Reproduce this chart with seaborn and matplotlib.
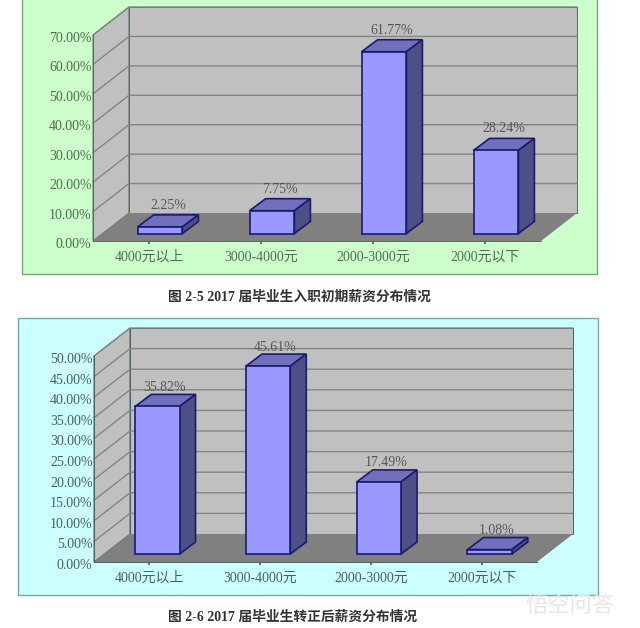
import seaborn as sns
import matplotlib.pyplot as plt
from matplotlib.patches import Rectangle
from matplotlib.transforms import Affine2D

categories = ['4000元以上', '3000-4000元', '2000-3000元', '2000元以下']
entry_values = [2.25, 7.75, 61.77, 28.24]
regular_values = [35.82, 45.61, 17.49, 1.08]
entry_ticks = [0, 10, 20, 30, 40, 50, 60, 70]
regular_ticks = [0, 5, 10, 15, 20, 25, 30, 35, 40, 45, 50]
entry_caption = '图 2-5 2017 届毕业生入职初期薪资分布情况'
regular_caption = '图 2-6 2017 届毕业生转正后薪资分布情况'

W, H = 640, 628

sns.set_theme(style='white')
plt.rcParams['font.family'] = ['Liberation Serif', 'Noto Sans CJK SC', 'DejaVu Sans']


def panel(fig, box, face, edge):
    x0, y0, x1, y1 = box
    fig.patches.append(Rectangle((x0 / W, 1 - y1 / H), (x1 - x0) / W, (y1 - y0) / H,
                                 transform=fig.transFigure, facecolor=face,
                                 edgecolor=edge, linewidth=1, zorder=-1))


def chart(fig, values, ticks, box, bar_shift, label_shift, text_color):
    left, top, right, bottom = box
    ax = fig.add_axes([left / W, 1 - bottom / H, (right - left) / W, (bottom - top) / H])
    ax.patch.set_visible(False)

    sns.barplot(x=categories, y=values, color='#9999FF', saturation=1, width=0.4,
                edgecolor='#1A1A70', linewidth=1.2, ax=ax, zorder=5)
    ax.set_xlim(-0.5, 3.5)
    ax.set_ylim(0, ticks[-1])

    depth = (36, 28)
    back = ax.transData + Affine2D().translate(*depth)
    bar_front = ax.transData + Affine2D().translate(*bar_shift)
    bar_back = ax.transData + Affine2D().translate(bar_shift[0] + 16, bar_shift[1] + 12)
    to_back = lambda pts: [back.transform(p) for p in pts]

    # walls and floor, everything is worked out in pixels from the data scale
    xa, xb, ya, yb = -0.5, 3.5, 0, ticks[-1]
    front_pts = [ax.transData.transform(p) for p in [(xa, ya), (xb, ya), (xa, yb)]]
    back_pts = to_back([(xa, ya), (xb, ya), (xa, yb), (xb, yb)])
    line = text_color
    px = Affine2D()
    ax.add_patch(plt.Polygon([back_pts[0], back_pts[1], back_pts[3], back_pts[2]], transform=px,
                             facecolor='#C0C0C0', edgecolor=line, linewidth=0.7, clip_on=False, zorder=1))
    ax.add_patch(plt.Polygon([front_pts[0], back_pts[0], back_pts[2], front_pts[2]], transform=px,
                             facecolor='#C0C0C0', edgecolor=line, linewidth=0.7, clip_on=False, zorder=1))
    ax.add_patch(plt.Polygon([front_pts[0], front_pts[1], back_pts[1], back_pts[0]], transform=px,
                             facecolor='#808080', edgecolor='none', clip_on=False, zorder=2))

    for t in ticks[1:]:
        f = ax.transData.transform((xa, t))
        b = back.transform((xa, t))
        e = back.transform((xb, t))
        ax.plot([f[0], b[0], e[0]], [f[1], b[1], e[1]], transform=px, color='#848484',
                linewidth=1, clip_on=False, zorder=3)

    for bar, v in zip(ax.patches[:4], values):
        x0 = bar.get_x()
        x1 = x0 + bar.get_width()
        bar.set_transform(bar_front)
        bar.set_clip_on(False)
        a = [bar_front.transform(p) for p in [(x0, v), (x1, v), (x1, 0)]]
        c = [bar_back.transform(p) for p in [(x0, v), (x1, v), (x1, 0)]]
        ax.add_patch(plt.Polygon([a[0], a[1], c[1], c[0]], transform=px, facecolor='#7070BC',
                                 edgecolor='#1A1A70', linewidth=1.2, clip_on=False, zorder=4))
        ax.add_patch(plt.Polygon([a[1], a[2], c[2], c[1]], transform=px, facecolor='#4F4F88',
                                 edgecolor='#1A1A70', linewidth=1.2, clip_on=False, zorder=4))
        ax.text((x0 + x1) / 2, v, f'{v:.2f}%', transform=bar_front + Affine2D().translate(*label_shift),
                ha='center', va='bottom', fontsize=10, color='#555555', clip_on=False, zorder=6)

    sns.despine(ax=ax, top=True, right=True, left=False, bottom=False)
    for side in ['left', 'bottom']:
        ax.spines[side].set_color(line)
        ax.spines[side].set_linewidth(0.7)
        ax.spines[side].set_zorder(7)
    ax.set_yticks(ticks, [f'{t:.2f}%' for t in ticks])
    ax.tick_params(axis='y', length=0, pad=1, labelsize=10, labelcolor=text_color)
    ax.tick_params(axis='x', length=2, pad=5, labelsize=10, labelcolor=text_color, color=line, bottom=True)
    for label in ax.get_yticklabels():
        label.set_transform(label.get_transform() + Affine2D().translate(0, -2))
    return ax


fig = plt.figure(figsize=(W / 100, H / 100), dpi=100, facecolor='white')

panel(fig, (22, -2, 597, 274), '#CCFFCC', '#7F9F7F')
panel(fig, (18, 318, 598, 595), '#CCFFFF', '#7FA5A5')

chart(fig, entry_values, entry_ticks, (93, 35, 541, 241), (11, 7.5), (8, 15), '#4F704F')
chart(fig, regular_values, regular_ticks, (94, 356, 537, 562), (8, 8), (7, 12.5), '#4A6060')

fig.text(299.5 / W, 1 - 297 / H, entry_caption, ha='center', va='center', fontsize=9.9,
         fontweight='bold', color='#333333')
fig.text(292.5 / W, 1 - 617 / H, regular_caption, ha='center', va='center', fontsize=9.9,
         fontweight='bold', color='#333333')
fig.text(570 / W, 1 - 607 / H, '悟空问答', ha='center', va='center', fontsize=16,
         color='#E6E6E6')

fig.savefig('out.png', dpi=100)
